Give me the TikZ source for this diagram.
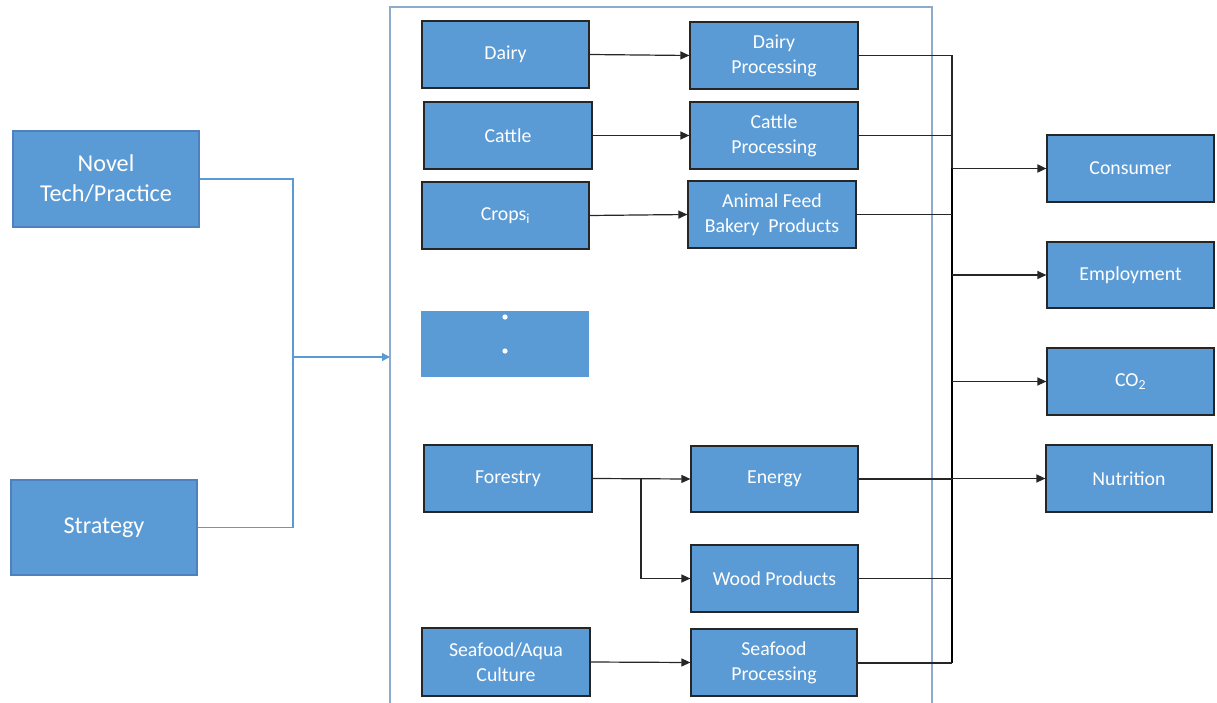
\documentclass[tikz,border=0pt]{standalone}
\usepackage{fontspec}
\setmainfont{Carlito}
\usetikzlibrary{arrows.meta}
\definecolor{boxfill}{HTML}{5B9BD5}
\definecolor{boxedge}{HTML}{262626}
\definecolor{inedge}{HTML}{4F81BD}
\definecolor{framecol}{HTML}{8EAACC}
\definecolor{feedline}{HTML}{5B9BD5}
\tikzset{
  box/.style={draw=boxedge, line width=1.2pt, fill=boxfill, text=white,
    align=center, inner sep=0pt, font=\fontsize{19.8}{25}\selectfont},
  bigbox/.style={box, draw=inedge, font=\fontsize{24.2}{30}\selectfont},
  plainbox/.style={fill=boxfill, inner sep=0pt},
  link/.style={draw=boxedge, line width=1.2pt},
  flow/.style={link, -{Triangle[length=9pt,width=8pt]}},
  busline/.style={draw=black, line width=2.2pt},
  feed/.style={draw=feedline, line width=1.3pt},
  sz/.style n args={2}{minimum width=#1pt, minimum height=#2pt}
}
\begin{document}
\begin{tikzpicture}[x=1pt, y=-1pt]
\useasboundingbox (0,0) rectangle (1217,703);

% drivers on the left
\node[bigbox, sz={186}{96}] (novel) at (106,179) {Novel\\Tech/Practice};
\node[bigbox, sz={186}{95}] (strat) at (104,527.5) {Strategy};

% open frame around the supply chains
\coordinate (frTL) at (390,7);
\coordinate (frTR) at (932,7);
\draw[draw=framecol, line width=1.3pt] (390,703) -- (frTL) -- (frTR) -- (932,703);

% sources
\node[box, sz={167}{67}] (dairy)  at (505.5,54.5) {Dairy};
\node[box, sz={168}{67}] (cattle) at (508,135.5) {Cattle};
\node[box, sz={167}{67}] (crops)  at (505.5,215.5) {Crops\textsubscript{i}};
\node[plainbox, sz={168}{66}] (dots) at (505,344) {};
\fill[white] (dots.center) ++(0,-27) circle (2.6pt);
\fill[white] (dots.center) ++(0,7) circle (2.6pt);
\node[box, sz={168}{67}] (forest) at (508,478.5) {Forestry};
\node[box, sz={168}{68}] (sea)    at (506,662) {Seafood/Aqua\\Culture};

% processing
\node[box, sz={168}{67}] (dproc)  at (774,55.5) {Dairy\\Processing};
\node[box, sz={168}{67}] (cproc)  at (774,135.5) {Cattle\\Processing};
\node[box, sz={168}{67}] (feedp)  at (772,214.5) {Animal Feed\\Bakery\ \ Products};
\node[box, sz={167}{66}] (energy) at (774.5,479) {Energy};
\node[box, sz={167}{67}] (wood)   at (774.5,578.5) {Wood Products};
\node[box, sz={166}{67}] (sproc)  at (774,662.5) {Seafood\\Processing};

% outcomes
\node[box, sz={167}{67}] (cons)  at (1130.5,168.5) {Consumer};
\node[box, sz={167}{66}] (empl)  at (1130.5,275) {Employment};
\node[box, sz={167}{67}] (co2)   at (1130.5,381.5) {CO\textsubscript{2}};
\node[box, sz={166}{67}] (nutr)  at (1129,478.5) {Nutrition};

% drivers feed into the frame
\coordinate (join) at (293,357);
\coordinate (frIn) at (390,357);
\draw[feed] (novel.east) -| (join);
\draw[feed] (strat.east) -| (join);
\draw[feed, -{Triangle[length=8pt,width=8pt]}] (join) -- (frIn);

% sources to processing
\draw[flow] (dairy.east) -- (dproc.west);
\draw[flow] (cattle.east) -- (cproc.west);
\draw[flow] (crops.east) -- (feedp.west);
\draw[flow] (forest.east) -- (energy.west);
\coordinate (fsplit) at (641,478.5);
\draw[flow] (fsplit) |- (wood.west);
\draw[flow] (sea.east) -- (sproc.west);

% collecting bus
\coordinate (busT) at (952,55.5);
\coordinate (busM) at (952,168.5);
\coordinate (busB) at (952,662.5);
\draw[link] (busT) -- (busM);
\draw[busline] (busM) -- (busB);
\draw[link] (dproc.east) -- (dproc.east -| busT);
\draw[link] (cproc.east) -- (cproc.east -| busT);
\draw[link] (feedp.east) -- (feedp.east -| busT);
\draw[link] (energy.east) -- (energy.east -| busT);
\draw[link] (wood.east) -- (wood.east -| busT);
\draw[link, line width=2pt] (sproc.east) -- (sproc.east -| busT);

% bus to outcomes
\draw[flow, line width=1.8pt] (cons.west -| busT) -- (cons.west);
\draw[flow] (empl.west -| busT) -- (empl.west);
\draw[flow] (co2.west -| busT) -- (co2.west);
\draw[flow] (nutr.west -| busT) -- (nutr.west);
\end{tikzpicture}
\end{document}
